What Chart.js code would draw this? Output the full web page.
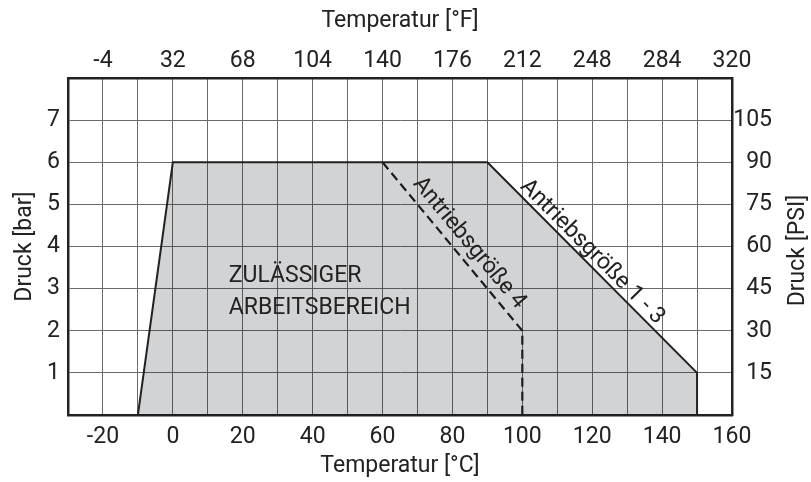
<!DOCTYPE html>
<html lang="de">
<head>
<meta charset="UTF-8">
<title>Zulässiger Arbeitsbereich</title>
<script src="https://cdn.jsdelivr.net/npm/chart.js"></script>
<style>
  html, body { margin: 0; padding: 0; background: #fff; }
  #wrap { width: 811px; height: 482px; position: relative; }
</style>
</head>
<body>
<div id="wrap"><canvas id="chart"></canvas></div>
<script>
// working range outline (°C / bar)
const areaTemp = [-10, 0, 90, 150, 150];
const areaPressure = [0, 6, 6, 1, 0];
// limit for drive size 4 (dashed)
const size4Temp = [60, 100, 100];
const size4Pressure = [6, 2, 0];

// grid + tick labels
const tempGrid = [-30, -20, -10, 0, 10, 20, 30, 40, 50, 60, 70, 80, 90, 100, 110, 120, 130, 140, 150, 160];
const celsiusLabels = [-20, 0, 20, 40, 60, 80, 100, 120, 140, 160];
const fahrenheitLabels = [-4, 32, 68, 104, 140, 176, 212, 248, 284, 320];
const pressureGrid = [0, 1, 2, 3, 4, 5, 6, 7, 8];
const barLabels = [1, 2, 3, 4, 5, 6, 7];
const psiLabels = [15, 30, 45, 60, 75, 90, 105];

const FONT = { family: 'Roboto', size: 23 };
const INK = '#222';
const GRID = '#6a6a6a';

const border = { display: true, color: INK, width: 2.5 };

const toPoints = (xs, ys) => xs.map((x, i) => ({ x: x, y: ys[i] }));

// texts inside the plot area, placed in data units
const notes = {
  area: { x: 16, lines: [['ZULÄSSIGER', 3.15], ['ARBEITSBEREICH', 2.39]] },
  size13: { text: 'Antriebsgröße 1 - 3', x: 120, y: 3.87 },
  size4: { text: 'Antriebsgröße 4', x: 84.8, y: 4.08 }
};

const notesPlugin = {
  id: 'notes',
  afterDatasetsDraw(chart) {
    const { ctx, scales: { x, y } } = chart;
    ctx.save();
    ctx.fillStyle = INK;
    ctx.font = '23px Roboto';

    ctx.textAlign = 'left';
    ctx.textBaseline = 'alphabetic';
    notes.area.lines.forEach(([t, v]) => {
      ctx.fillText(t, x.getPixelForValue(notes.area.x), y.getPixelForValue(v));
    });

    const slope = (xs, ys, i) => Math.atan2(
      y.getPixelForValue(ys[i + 1]) - y.getPixelForValue(ys[i]),
      x.getPixelForValue(xs[i + 1]) - x.getPixelForValue(xs[i]));

    const rotated = (n, angle) => {
      ctx.save();
      ctx.translate(x.getPixelForValue(n.x), y.getPixelForValue(n.y));
      ctx.rotate(angle);
      ctx.textAlign = 'center';
      ctx.textBaseline = 'middle';
      ctx.fillText(n.text, 0, 0);
      ctx.restore();
    };
    rotated(notes.size13, slope(areaTemp, areaPressure, 2));
    rotated(notes.size4, slope(size4Temp, size4Pressure, 0));

    // right axis title reads bottom-to-top like the left one
    const a = chart.chartArea;
    ctx.save();
    ctx.translate(798, (a.top + a.bottom) / 2 + 4);
    ctx.rotate(-Math.PI / 2);
    ctx.textAlign = 'center';
    ctx.textBaseline = 'middle';
    ctx.fillText('Druck [PSI]', 0, 0);
    ctx.restore();

    ctx.restore();
  }
};

new Chart(document.getElementById('chart'), {
  type: 'line',
  data: {
    datasets: [
      {
        data: toPoints(areaTemp, areaPressure),
        borderColor: INK,
        borderWidth: 2,
        backgroundColor: 'rgba(0,5,15,0.176)',
        fill: 'origin',
        pointRadius: 0,
        tension: 0
      },
      {
        data: toPoints(size4Temp, size4Pressure),
        borderColor: INK,
        borderWidth: 2.2,
        borderDash: [9, 5],
        fill: false,
        pointRadius: 0,
        tension: 0
      }
    ]
  },
  options: {
    responsive: true,
    maintainAspectRatio: false,
    animation: false,
    devicePixelRatio: 1,
    layout: { padding: { left: 0, top: 0, bottom: 0, right: 39 } },
    plugins: { legend: { display: false }, tooltip: { enabled: false } },
    scales: {
      x: {
        type: 'linear', position: 'bottom', min: -30, max: 160,
        afterBuildTicks: s => { s.ticks = tempGrid.map(v => ({ value: v })); },
        afterFit: s => { s.height = 67; },
        grid: { color: GRID, lineWidth: 1, drawTicks: false },
        border: border,
        ticks: {
          autoSkip: false, maxRotation: 0, padding: 8, color: INK, font: FONT,
          callback: v => celsiusLabels.includes(v) ? String(v) : ''
        },
        title: { display: true, text: 'Temperatur [°C]', color: INK, font: FONT, padding: { top: 0, bottom: 2 } }
      },
      x2: {
        type: 'linear', position: 'top', min: -30, max: 160,
        afterBuildTicks: s => { s.ticks = celsiusLabels.map(v => ({ value: v })); },
        afterFit: s => { s.height = 78; },
        grid: { display: false, drawTicks: false },
        border: border,
        ticks: {
          autoSkip: false, maxRotation: 0, padding: 3, color: INK, font: FONT,
          callback: (v, i) => String(fahrenheitLabels[i])
        },
        title: { display: true, text: 'Temperatur [°F]', color: INK, font: FONT, padding: { top: 7, bottom: 0 } }
      },
      y: {
        type: 'linear', position: 'left', min: 0, max: 8,
        afterBuildTicks: s => { s.ticks = pressureGrid.map(v => ({ value: v })); },
        afterFit: s => { s.width = 68; },
        grid: { color: GRID, lineWidth: 1, drawTicks: false },
        border: border,
        ticks: {
          autoSkip: false, padding: 8, color: INK, font: FONT,
          callback: v => barLabels.includes(v) ? String(v) : ''
        },
        title: { display: true, text: 'Druck [bar]', color: INK, font: FONT, padding: { top: 11, bottom: 0 } }
      },
      y2: {
        type: 'linear', position: 'right', min: 0, max: 8,
        afterBuildTicks: s => { s.ticks = barLabels.map(v => ({ value: v })); },
        afterFit: s => { s.width = 40; },
        grid: { display: false, drawTicks: false },
        border: border,
        ticks: {
          autoSkip: false, padding: 2, crossAlign: 'far', color: INK, font: FONT,
          callback: (v, i) => String(psiLabels[i])
        }
      }
    }
  },
  plugins: [notesPlugin]
});
</script>
</body>
</html>
